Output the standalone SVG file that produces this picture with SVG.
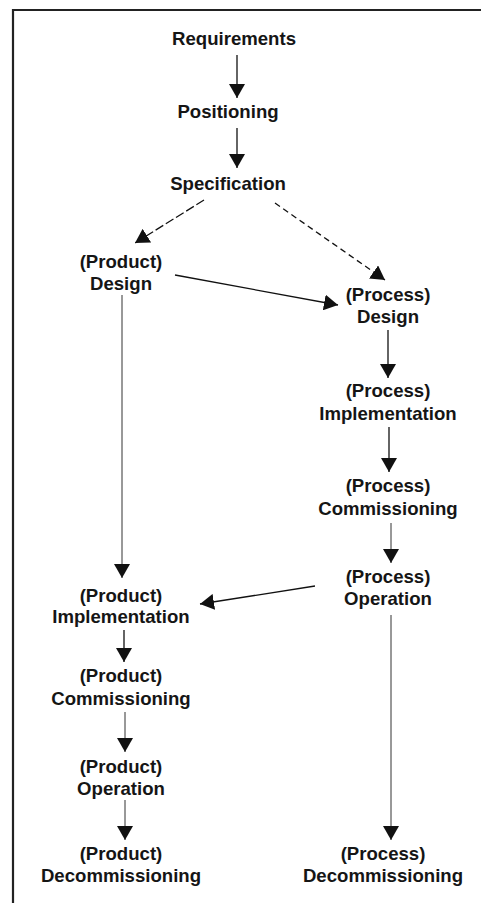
<svg xmlns="http://www.w3.org/2000/svg" width="481" height="903" viewBox="0 0 481 903">
<style>
text{font-family:"Liberation Sans",Arial,sans-serif;font-weight:bold;font-size:18.6px;fill:#151515;text-anchor:middle}
.c{stroke:#111;stroke-width:1.3;fill:none;marker-end:url(#ah)}
.thin{stroke:#333;stroke-width:1}
.d1{stroke-dasharray:9,3}
.d2{stroke-dasharray:6,4}
</style>
<defs>
<marker id="ah" viewBox="0 0 14 16" refX="14" refY="8" markerWidth="14" markerHeight="16" markerUnits="userSpaceOnUse" orient="auto">
<path d="M0,0 L14,8 L0,16 z" fill="#111"/>
</marker>
</defs>
<rect width="481" height="903" fill="#fff"/>
<g id="frame" stroke="#222" stroke-width="2.2" fill="none">
<line x1="12" y1="10" x2="481" y2="10"/>
<line x1="13" y1="9" x2="13" y2="903"/>
</g>
<g id="connectors">
<line class="c" x1="237" y1="55" x2="237" y2="98"/>
<line class="c" x1="237" y1="128" x2="237" y2="168"/>
<line class="c d1" x1="204" y1="200" x2="135" y2="243"/>
<line class="c d2" x1="275" y1="203" x2="385" y2="280"/>
<line class="c" x1="175" y1="275" x2="338" y2="305"/>
<line class="c" x1="388" y1="330" x2="388" y2="378"/>
<line class="c" x1="389" y1="427" x2="389" y2="472"/>
<line class="c thin" x1="391" y1="523" x2="391" y2="563"/>
<line class="c thin" x1="122" y1="295" x2="122" y2="578"/>
<line class="c" x1="315" y1="586" x2="200" y2="604"/>
<line class="c" x1="124" y1="630" x2="124" y2="662"/>
<line class="c thin" x1="125" y1="712" x2="125" y2="752"/>
<line class="c thin" x1="125" y1="800" x2="125" y2="840"/>
<line class="c thin" x1="391" y1="615" x2="391" y2="840"/>
</g>
<g id="requirements"><text x="234" y="45">Requirements</text></g>
<g id="positioning"><text x="228" y="118">Positioning</text></g>
<g id="specification"><text x="228" y="190">Specification</text></g>
<g id="product-design"><text x="121" y="268">(Product)</text><text x="121" y="290">Design</text></g>
<g id="process-design"><text x="388" y="301">(Process)</text><text x="388" y="323">Design</text></g>
<g id="process-implementation"><text x="388" y="397">(Process)</text><text x="388" y="420">Implementation</text></g>
<g id="process-commissioning"><text x="388" y="492">(Process)</text><text x="388" y="515">Commissioning</text></g>
<g id="process-operation"><text x="388" y="583">(Process)</text><text x="388" y="605">Operation</text></g>
<g id="product-implementation"><text x="121" y="602">(Product)</text><text x="121" y="623">Implementation</text></g>
<g id="product-commissioning"><text x="121" y="682">(Product)</text><text x="121" y="705">Commissioning</text></g>
<g id="product-operation"><text x="121" y="773">(Product)</text><text x="121" y="795">Operation</text></g>
<g id="product-decommissioning"><text x="121" y="860">(Product)</text><text x="121" y="882">Decommissioning</text></g>
<g id="process-decommissioning"><text x="383" y="860">(Process)</text><text x="383" y="882">Decommissioning</text></g>
</svg>
